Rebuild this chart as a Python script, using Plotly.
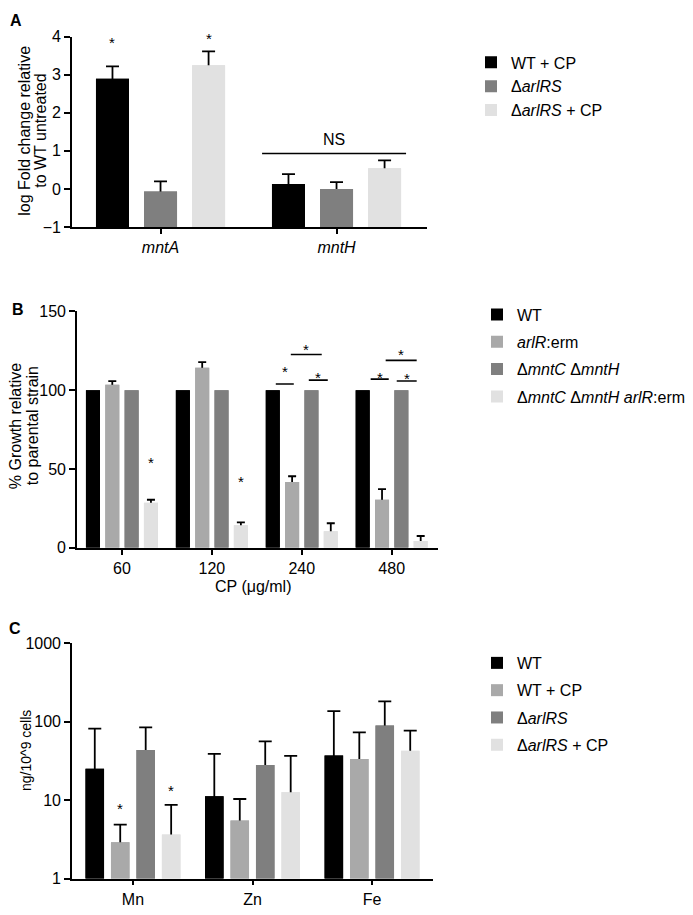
import math
import plotly.graph_objects as go

W, H = 693, 915          # window size
OFF = 8                  # default page body margin
FW, FH = W - OFF, H - OFF
FONT = "Liberation Sans, Arial, Helvetica, sans-serif"

# ---------------- Panel A data ----------------
genes = ["mntA", "mntH"]
a_names = ["WT + CP", "Δ<i>arlRS</i>", "Δ<i>arlRS</i> + CP"]
a_wt_cp = [2.89, 0.13]
a_wt_cp_err = [0.33, 0.26]
a_arlrs = [-0.07, 0.0]
a_arlrs_err = [0.27, 0.18]
a_arlrs_cp = [3.25, 0.54]
a_arlrs_cp_err = [0.36, 0.21]
a_stars = [(0, 0, 3.92), (0, 2, 4.02)]          # (gene index, series index, y)
a_ns = (0.577, 1.395, 0.93, 1.29)               # NS bar x0, x1, y, text y

# ---------------- Panel B data ----------------
cp_doses = ["60", "120", "240", "480"]
b_names = ["WT", "<i>arlR</i>:erm", "Δ<i>mntC</i> Δ<i>mntH</i>", "Δ<i>mntC</i> Δ<i>mntH</i> <i>arlR</i>:erm"]
b_wt = [100, 100, 100, 100]
b_arlr = [103.5, 114.3, 41.7, 30.5]
b_arlr_err = [2.3, 3.5, 3.7, 6.8]
b_mnt = [100, 100, 100, 100]
b_mnt_arlr = [28.6, 14.3, 10.6, 4.4]
b_mnt_arlr_err = [1.9, 1.9, 5.0, 3.1]
b_stars = [(0, 3, 56), (1, 3, 44)]
b_brackets = [(1.711, 1.911, 103.9, 114.0), (2.078, 2.289, 106.4, 110.0), (1.878, 2.222, 122.6, 127.6),
              (2.766, 2.967, 107.0, 110.0), (3.056, 3.278, 105.8, 109.5), (2.933, 3.278, 118.9, 124.5)]

# ---------------- Panel C data ----------------
metals = ["Mn", "Zn", "Fe"]
c_names = ["WT", "WT + CP", "Δ<i>arlRS</i>", "Δ<i>arlRS</i> + CP"]
c_wt = [25.0, 11.2, 36.8]
c_wt_err = [56.0, 27.5, 99.0]
c_wt_cp = [2.9, 5.5, 33.2]
c_wt_cp_err = [1.97, 4.8, 39.7]
c_arlrs = [43.4, 28.0, 89.0]
c_arlrs_err = [40.6, 28.0, 92.0]
c_arlrs_cp = [3.65, 12.6, 42.5]
c_arlrs_cp_err = [5.0, 23.9, 34.0]
c_stars = [(0, 1, 8.4), (0, 3, 14.5)]

BLACK, DARK, MID, LIGHT = "#000000", "#7f7f7f", "#a9a9a9", "#e1e1e1"

fig = go.Figure()


def add_panel(n_ax, cats, series, spacing, width, legend, base, errw, down):
    xa = "x" if n_ax == 1 else f"x{n_ax}"
    ya = "y" if n_ax == 1 else f"y{n_ax}"
    xs = list(range(len(cats)))
    n = len(series)
    covers = []
    for j, (name, vals, errs, color) in enumerate(series):
        off = (j - (n - 1) / 2) * spacing - width / 2
        yv = [v - base for v in vals] if base is not None else list(vals)
        kw = {}
        if errs is not None:
            kw["error_y"] = dict(type="data", symmetric=False, array=errs,
                                 arrayminus=[down(v) for v in vals],
                                 color="black", thickness=1.8, width=errw)
        fig.add_trace(go.Bar(x=xs, y=yv, base=base, offset=off, width=width, name=name,
                             marker=dict(color=color, line=dict(width=0)),
                             legend=legend, legendgroup=f"{legend}_{j}",
                             xaxis=xa, yaxis=ya, **kw))
        covers.append(dict(x=xs, y=yv, base=base, offset=off, width=width,
                           marker=dict(color=color, line=dict(width=0)),
                           showlegend=False, hoverinfo="skip", xaxis=xa, yaxis=ya))
    # same bars drawn again on top so that only the upper half of each error bar shows
    for c in covers:
        fig.add_trace(go.Bar(**c))


A_SP, A_W = 0.273, 0.1875
B_SP, B_W = 0.215, 0.156
C_SP, C_W = 0.213, 0.155

add_panel(1, genes, [(a_names[0], a_wt_cp, a_wt_cp_err, BLACK),
                     (a_names[1], a_arlrs, a_arlrs_err, DARK),
                     (a_names[2], a_arlrs_cp, a_arlrs_cp_err, LIGHT)],
          A_SP, A_W, "legend", -1, 6.5, lambda v: 0.12)
add_panel(2, cp_doses, [(b_names[0], b_wt, None, BLACK),
                        (b_names[1], b_arlr, b_arlr_err, MID),
                        (b_names[2], b_mnt, None, DARK),
                        (b_names[3], b_mnt_arlr, b_mnt_arlr_err, LIGHT)],
          B_SP, B_W, "legend2", 0, 4, lambda v: 2.5)
add_panel(3, metals, [(c_names[0], c_wt, c_wt_err, BLACK),
                      (c_names[1], c_wt_cp, c_wt_cp_err, MID),
                      (c_names[2], c_arlrs, c_arlrs_err, DARK),
                      (c_names[3], c_arlrs_cp, c_arlrs_cp_err, LIGHT)],
          C_SP, C_W, "legend3", None, 6.5, lambda v: v * 0.25)

ax_line = dict(showline=True, linecolor="black", linewidth=1.6, ticks="outside",
               tickcolor="black", tickwidth=1.6, ticklen=6, showgrid=False, zeroline=False,
               tickfont=dict(size=16, color="black", family=FONT), fixedrange=True)


def dx(p):
    return (p - OFF) / FW


def dy(p):
    return 1 - (p - OFF) / FH


legend_common = dict(xanchor="left", yanchor="top", font=dict(size=16),
                     bgcolor="rgba(0,0,0,0)", traceorder="grouped", itemwidth=30)

layout = dict(
    width=FW, height=FH, margin=dict(l=0, r=0, t=0, b=0),
    paper_bgcolor="white", plot_bgcolor="white", barmode="overlay",
    font=dict(family=FONT, color="black", size=16),
    xaxis=dict(ax_line, domain=[dx(72), dx(427)], range=[-0.503, 1.514], anchor="y",
               tickvals=list(range(len(genes))), ticktext=[f"<i>{g}</i>" for g in genes], ticklen=5),
    yaxis=dict(ax_line, domain=[dy(223), dy(29)], range=[-1, 4], anchor="x",
               tickvals=[-1, 0, 1, 2, 3, 4]),
    xaxis2=dict(ax_line, domain=[dx(77), dx(438)], range=[-0.5, 3.515], anchor="y2",
                tickvals=list(range(len(cp_doses))), ticktext=cp_doses, ticklen=5),
    yaxis2=dict(ax_line, domain=[dy(550), dy(309)], range=[0, 150], anchor="x2",
                tickvals=[0, 50, 100, 150]),
    xaxis3=dict(ax_line, domain=[dx(72), dx(433)], range=[-0.51, 2.51], anchor="y3",
                tickvals=list(range(len(metals))), ticktext=metals, ticklen=5),
    yaxis3=dict(ax_line, domain=[dy(887), dy(647)], type="log", range=[0, 3], anchor="x3",
                tickvals=[1, 10, 100, 1000], ticktext=["1", "10", "100", "1000"]),
    legend=dict(legend_common, x=dx(471), y=dy(38), tracegroupgap=0),
    legend2=dict(legend_common, x=dx(477), y=dy(295), tracegroupgap=3.5),
    legend3=dict(legend_common, x=dx(477), y=dy(650), tracegroupgap=3.5),
)
fig.update_layout(**layout)

ann = []
shapes = []


def paper_text(text, x, y, size=16, angle=0, bold=False):
    ann.append(dict(text=f"<b>{text}</b>" if bold else text, x=dx(x), y=dy(y), xref="paper", yref="paper",
                    xanchor="center", yanchor="middle", showarrow=False, textangle=angle,
                    font=dict(size=size, family=FONT, color="black")))


paper_text("A", 16, 13, 16, bold=True)
paper_text("B", 18, 307, 16, bold=True)
paper_text("C", 15, 632, 16, bold=True)
paper_text("log Fold change relative", 25, 125, 16, -90)
paper_text("to WT untreated", 41, 125, 16, -90)
paper_text("% Growth relative", 15, 426, 16, -90)
paper_text("to parental strain", 32, 426, 16, -90)
paper_text("ng/10^9 cells", 26, 757, 14, -90)
paper_text("CP (μg/ml)", 253, 589, 16)


def star(xr, yr, x, y, top=None, px_per_unit=0.0):
    shift = -3
    if top is not None and y > top:
        shift += (y - top) * px_per_unit
        y = top
    ann.append(dict(text="*", x=x, y=y, xref=xr, yref=yr, xanchor="center", yanchor="middle",
                    showarrow=False, yshift=shift, font=dict(size=15, family=FONT, color="black")))


for gi, si, y in a_stars:
    star("x", "y", gi + (si - 1) * A_SP, y, top=3.99, px_per_unit=38.8)
for gi, si, y in b_stars:
    star("x2", "y2", gi + (si - 1.5) * B_SP, y)
for gi, si, y in c_stars:
    star("x3", "y3", gi + (si - 1.5) * C_SP, math.log10(y))

x0, x1, yl, yt = a_ns
shapes.append(dict(type="line", xref="x", yref="y", x0=x0, x1=x1, y0=yl, y1=yl,
                   line=dict(color="black", width=1.6)))
ann.append(dict(text="NS", x=(x0 + x1) / 2, y=yt, xref="x", yref="y", showarrow=False,
                xanchor="center", yanchor="middle", font=dict(size=16, family=FONT, color="black")))

for x0, x1, yl, ys in b_brackets:
    shapes.append(dict(type="line", xref="x2", yref="y2", x0=x0, x1=x1, y0=yl, y1=yl,
                       line=dict(color="black", width=1.6)))
    star("x2", "y2", (x0 + x1) / 2, ys)

fig.update_layout(annotations=ann, shapes=shapes)
fig.write_html("out.html")
